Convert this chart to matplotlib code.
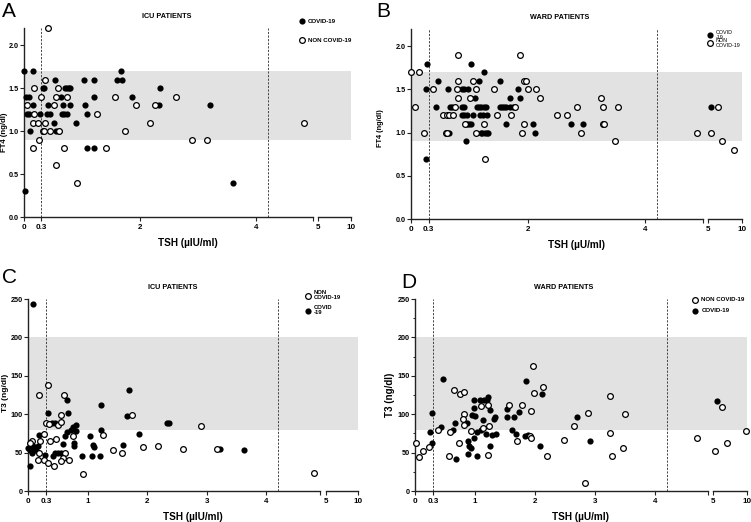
import numpy as np
import matplotlib.pyplot as plt

plt.rcParams['font.family'] = ['Liberation Sans', 'DejaVu Sans']
plt.rcParams['font.weight'] = 'bold'

# --- A: FT4, ICU patients ---
a_cov_tsh = [0, 0.16, 1.67, 0.53, 1.03, 1.21, 1.6, 1.69, 0.32, 0.34, 0.70, 0.74, 0.77, 0.8, 2.34,
             0.03, 0.09, 0.64, 1.21, 1.86, 0.16, 0.41, 0.67, 0.8, 1.05, 2.33, 3.21,
             0.06, 0.09, 0.28, 0.40, 0.44, 0.65, 0.69, 0.74, 1.09, 0.51, 0.9,
             0.10, 0.55, 0.6, 1.08, 1.2, 3.61, 0.02]
a_cov_ft4 = [1.7, 1.7, 1.7, 1.6, 1.6, 1.6, 1.6, 1.6, 1.5, 1.5, 1.5, 1.5, 1.5, 1.5, 1.5,
             1.4, 1.4, 1.4, 1.4, 1.4, 1.3, 1.3, 1.3, 1.3, 1.3, 1.3, 1.3,
             1.2, 1.2, 1.2, 1.2, 1.2, 1.2, 1.2, 1.2, 1.2, 1.1, 1.1,
             1.0, 1.0, 1.0, 0.8, 0.8, 0.4, 0.3]
a_non_tsh = [0.42, 0.37, 0.17, 0.59, 0.29, 0.55, 0.74, 1.57, 2.62, 0.06, 0.52, 1.94, 2.26,
             0.17, 1.26, 0.16, 0.25, 0.37, 2.18, 4.83, 0.32, 0.35, 0.44, 0.61, 1.74,
             0.26, 2.9, 3.15, 0.16, 0.69, 1.42, 0.55, 0.91]
a_non_ft4 = [2.2, 1.6, 1.5, 1.5, 1.4, 1.4, 1.4, 1.4, 1.4, 1.3, 1.3, 1.3, 1.3,
             1.2, 1.2, 1.1, 1.1, 1.1, 1.1, 1.1, 1.0, 1.0, 1.0, 1.0, 1.0,
             0.9, 0.9, 0.9, 0.8, 0.8, 0.8, 0.6, 0.4]

# --- B: FT4, ward patients ---
b_cov_tsh = [0.28, 1.03, 1.24, 0.46, 1.16, 1.52, 0.26, 0.63, 0.87, 0.91, 0.97, 1.82,
             1.1, 1.69, 1.86, 0.43, 0.67, 0.70, 0.87, 0.91, 1.12, 1.16, 1.2, 1.24, 1.28,
             1.52, 1.56, 1.59, 1.63, 1.69, 1.74, 0.87, 0.91, 0.95, 1.05, 1.18, 1.23, 1.29,
             0.95, 0.99, 1.02, 1.62, 2.09, 2.73, 2.93, 0.65, 1.19, 1.22, 1.26, 1.29, 1.31, 2.12,
             0.94, 0.25, 5.5]
b_cov_ft4 = [1.8, 1.8, 1.7, 1.6, 1.6, 1.6, 1.5, 1.5, 1.5, 1.5, 1.5, 1.5,
             1.4, 1.4, 1.4, 1.3, 1.3, 1.3, 1.3, 1.3, 1.3, 1.3, 1.3, 1.3, 1.3,
             1.3, 1.3, 1.3, 1.3, 1.3, 1.3, 1.2, 1.2, 1.2, 1.2, 1.2, 1.2, 1.2,
             1.1, 1.1, 1.1, 1.1, 1.1, 1.1, 1.1, 1.0, 1.0, 1.0, 1.0, 1.0, 1.0, 1.0,
             0.9, 0.7, 1.3]
b_non_tsh = [0.80, 1.86, 0, 0.13, 0.80, 1.06, 1.93, 1.97, 0.38, 0.79, 1.11, 1.41, 1.99, 2.13,
             0.80, 1.0, 2.2, 3.24, 0.06, 0.75, 1.77, 2.84, 3.27, 3.54, 6.4,
             0.54, 0.61, 0.65, 0.72, 1.46, 1.70, 2.49, 2.66, 0.92, 1.24, 1.93, 3.27, 3.3,
             0.22, 0.59, 0.61, 1.11, 1.89, 2.9, 4.88, 5.4, 3.49, 7.0, 1.26, 8.75]
b_non_ft4 = [1.9, 1.9, 1.7, 1.7, 1.6, 1.6, 1.6, 1.6, 1.5, 1.5, 1.5, 1.5, 1.5, 1.5,
             1.4, 1.4, 1.4, 1.4, 1.3, 1.3, 1.3, 1.3, 1.3, 1.3, 1.3,
             1.2, 1.2, 1.2, 1.2, 1.2, 1.2, 1.2, 1.2, 1.1, 1.1, 1.1, 1.1, 1.1,
             1.0, 1.0, 1.0, 1.0, 1.0, 1.0, 1.0, 1.0, 0.9, 0.9, 0.7, 0.8]

# --- C: T3, ICU patients ---
c_cov_tsh = [0.08, 0.66, 0.67, 0.34, 1.22, 1.70, 1.67, 0.40, 0.45, 0.8, 0.76, 0.73, 0.66, 0.8,
             1.22, 1.04, 1.87, 0.18, 0.62, 0.58, 0.78, 0.77, 0, 0.04, 0.08, 0.11, 0.14, 0.17, 0.06,
             0.28, 0.42, 0.45, 0.51, 0.56, 0.03, 0.91, 1.07, 1.21, 1.09, 1.1, 1.6,
             2.33, 2.36, 3.23, 3.63]
c_cov_t3 = [244, 118, 102, 102, 111.5, 132, 97.7, 88, 89, 86, 83, 80, 77, 78.5,
            79.4, 72, 74, 72.5, 72, 61, 63, 59, 56, 54, 58, 53, 56, 58, 50,
            47, 45, 49, 50, 49, 33, 46, 46, 45.5, 60, 57, 60,
            88, 88, 55, 54]
c_non_tsh = [0.19, 0.34, 0.6, 0.55, 1.75, 0.3, 0.36, 0.5, 0.56, 0.75, 1.26, 0.27, 0.07, 0.04,
             0.2, 0.37, 0.47, 0.19, 0.62, 0.59, 0.56, 0.69, 0.17, 0.27, 0.34, 0.43,
             1.43, 1.58, 1.93, 2.19, 0.93, 2.6, 2.91, 3.18, 4.8]
c_non_t3 = [125, 138, 125, 98.5, 98.5, 89, 87, 86, 90, 71, 73, 74, 65, 63,
            65, 65, 67.7, 49, 49, 43, 39, 40, 41, 40, 37, 33,
            53, 50, 57.7, 58.6, 22.6, 55, 84, 55, 23.5]

# --- D: T3, ward patients ---
d_cov_tsh = [0.28, 0.25, 0.29, 0.44, 0.47, 0.63, 0.67, 0.68, 0.87, 0.88, 0.9, 0.88, 0.93, 0.96,
             0.98, 0.98, 0.98, 1.01, 1.04, 1.04, 1.08, 1.11, 1.15, 1.14, 1.18, 1.21, 1.22, 1.26,
             1.26, 1.29, 1.32, 1.34, 1.36, 1.53, 1.54, 1.65, 1.62, 1.69, 1.73, 1.86, 1.84, 1.89,
             2.12, 2.09, 2.71, 2.92, 5.6]
d_cov_t3 = [63, 77, 101, 83, 146, 80, 88, 42, 88, 65.5, 58, 48, 55.6, 99,
            108, 119, 69, 98, 45.6, 77, 118.5, 79.4, 118.5, 92, 74, 118.5, 122, 105,
            58.6, 73, 94, 97, 74, 96, 107, 96, 80, 74, 103, 143, 72, 73,
            126, 58, 97, 65, 117]
d_non_tsh = [0.01, 0.07, 0.13, 0.23, 0.38, 0.56, 0.59, 0.73, 0.65, 0.75, 0.81, 0.81, 0.8, 0.81,
             0.93, 1.11, 1.13, 1.22, 1.24, 1.22, 1.57, 1.71, 1.78, 1.92, 1.94, 1.93, 1.97, 1.99,
             2.14, 2.21, 2.48, 2.65, 2.89, 2.84, 3.26, 3.26, 3.29, 3.47, 3.51,
             4.7, 5.34, 6.3, 7.0, 9.9]
d_non_t3 = [62, 44, 52.5, 57, 80, 46, 77, 62.5, 132, 126, 129, 100, 94, 86,
            78, 111, 81.6, 112, 84, 47, 111.5, 65.5, 112, 71, 69.4, 104.6, 163, 128,
            136, 46, 67, 84, 101, 11, 123.5, 76, 45.6, 56.5, 100,
            68.7, 52, 109, 62, 78]


def broken_scale(b, gap, w):
    # segment 0..b, small gap, then 5..10 squeezed into width w
    xs = np.array([0.0, b, 5.0, 10.0])
    ps = np.array([0.0, b, b + gap, b + gap + w])

    def fwd(x):
        x = np.asarray(x, dtype=float)
        out = np.interp(x, xs, ps)
        out = np.where(x < 0, x, out)
        return np.where(x > 10, ps[-1] + (x - 10) * w / 5, out)

    def inv(p):
        p = np.asarray(p, dtype=float)
        out = np.interp(p, ps, xs)
        out = np.where(p < 0, p, out)
        return np.where(p > ps[-1], 10 + (p - ps[-1]) * 5 / w, out)

    return fwd, inv


def draw_panel(ax, b, gap, w, cov, non, band, ylim, yticks, yfmt, xticks, xlabels,
               ylabel, ylab_pos, ylab_size, xlabel, title, title_x):
    fwd, inv = broken_scale(b, gap, w)
    ax.set_xscale('function', functions=(fwd, inv))
    ax.set_xlim(0, 10)
    ax.set_ylim(*ylim)
    ax.axhspan(band[0], band[1], color='#e2e2e2', lw=0, zorder=0)
    for xv in (0.3, 4.2):
        ax.axvline(xv, color='#444444', lw=0.7, ls=(0, (2.2, 1.5)), zorder=1)
    ax.scatter(cov[0], cov[1], s=20, c='black', lw=0, zorder=3, clip_on=False, label=cov[2])
    ax.scatter(non[0], non[1], s=17, facecolors='white', edgecolors='black', lw=0.9,
               zorder=3, clip_on=False, label=non[2])
    for s in ('top', 'right', 'bottom'):
        ax.spines[s].set_visible(False)
    ax.spines['left'].set_linewidth(1.0)
    ax.spines['left'].set_color('#222222')
    ax.plot([0, b], [ylim[0], ylim[0]], color='#222222', lw=1.0, clip_on=False, zorder=4)
    ax.plot([5, 10], [ylim[0], ylim[0]], color='#222222', lw=1.0, clip_on=False, zorder=4)
    ax.set_xticks(xticks)
    ax.set_xticklabels(xlabels)
    ax.set_yticks(yticks)
    ax.set_yticklabels([yfmt.format(v) for v in yticks])
    ax.tick_params(axis='x', length=3, width=0.8, pad=2, labelsize=5.8, color='#222222')
    ax.tick_params(axis='y', length=3, width=0.8, pad=1, labelsize=5.2, color='#222222')
    ax.set_ylabel(ylabel, fontsize=ylab_size, fontweight='bold')
    ax.yaxis.set_label_coords(*ylab_pos)
    ax.set_xlabel(xlabel, fontsize=7.2, fontweight='bold', labelpad=5)
    ax.text(title_x, 1.06, title, transform=ax.transAxes, ha='center', va='center',
            fontsize=5.2, fontweight='bold')


fig = plt.figure(figsize=(7.51, 5.22), dpi=100)
W, H = 751.0, 522.0


def px_axes(l, r, t, bt):
    return fig.add_axes([l / W, 1 - bt / H, (r - l) / W, (bt - t) / H])


axA = px_axes(24, 351, 28, 217)
axB = px_axes(411, 742, 29, 219)
axC = px_axes(28, 358, 299, 491)
axD = px_axes(415, 747, 299, 491)

ft4_ticks = [0.0, 0.5, 1.0, 1.5, 2.0]
t3_ticks = [0, 50, 100, 150, 200, 250]
ticks_ab = [0, 0.3, 2, 4, 4.98, 5, 10]
labels_ab = ['0', '0.3', '2', '4', '', '5', '10']
ticks_cd = [0, 0.3, 1, 2, 3, 4, 4.9, 5, 10]
labels_cd = ['0', '0.3', '1', '2', '3', '4', '', '5', '10']

draw_panel(axA, 4.98, 0.09, 0.57, (a_cov_tsh, a_cov_ft4, 'COVID-19'),
           (a_non_tsh, a_non_ft4, 'NON COVID-19'), (0.9, 1.7), (0, 2.2), ft4_ticks, '{:.1f}',
           ticks_ab, labels_ab, 'FT4 (ng/dl)', (-0.05, 0.45), 5.6,
           'TSH (µIU/ml)', 'ICU PATIENTS', 0.437)
draw_panel(axB, 4.98, 0.09, 0.58, (b_cov_tsh, b_cov_ft4, 'COVID\n-19'),
           (b_non_tsh, b_non_ft4, 'NON\nCOVID-19'), (0.9, 1.7), (0, 2.2), ft4_ticks, '{:.1f}',
           ticks_ab, labels_ab, 'FT4 (ng/dl)', (-0.081, 0.48), 5.3,
           'TSH (µU/ml)', 'WARD PATIENTS', 0.45)
draw_panel(axC, 4.9, 0.1, 0.54, (c_cov_tsh, c_cov_t3, 'COVID\n-19'),
           (c_non_tsh, c_non_t3, 'NON\nCOVID-19'), (80, 200), (0, 250), t3_ticks, '{:d}',
           ticks_cd, labels_cd, 'T3 (ng/dl)', (-0.057, 0.51), 6.0,
           'TSH (µIU/ml)', 'ICU PATIENTS', 0.44)
draw_panel(axD, 4.89, 0.083, 0.57, (d_cov_tsh, d_cov_t3, 'COVID-19'),
           (d_non_tsh, d_non_t3, 'NON COVID-19'), (80, 200), (0, 250), t3_ticks, '{:d}',
           ticks_cd, labels_cd, 'T3 (ng/dl)', (-0.06, 0.5), 7.0,
           'TSH (µU/ml)', 'WARD PATIENTS', 0.449)
axD.set_yticks(np.arange(0, 251, 25), minor=True)
axD.tick_params(axis='y', which='minor', length=1.8, width=0.6)


def add_legend(ax, order, anchor, spacing, size, weight='bold', linespacing=1.0):
    h, l = ax.get_legend_handles_labels()
    h = [h[i] for i in order]
    l = [l[i] for i in order]
    leg = ax.legend(h, l, loc='upper left', bbox_to_anchor=anchor, frameon=False,
                    borderpad=0, handlelength=1.0, handletextpad=0.5, labelspacing=spacing,
                    borderaxespad=0, scatterpoints=1,
                    prop={'size': size, 'weight': weight})
    for t in leg.get_texts():
        t.set_linespacing(linespacing)
    return leg


add_legend(axA, [0, 1], (0.84, 1.05), 2.2, 4.4)
add_legend(axB, [0, 1], (0.895, 0.995), -0.35, 3.9, weight='normal', linespacing=0.95)
add_legend(axC, [1, 0], (0.84, 1.045), 0.9, 4.2, linespacing=0.95)
add_legend(axD, [1, 0], (0.835, 1.01), 0.9, 4.4)

for txt, x, y in (('A', 2, 2), ('B', 376, 2), ('C', 2, 268), ('D', 401, 273)):
    fig.text(x / W, 1 - y / H, txt, fontsize=15, fontweight='normal', ha='left', va='top')

fig.savefig('out.png', dpi=100)
